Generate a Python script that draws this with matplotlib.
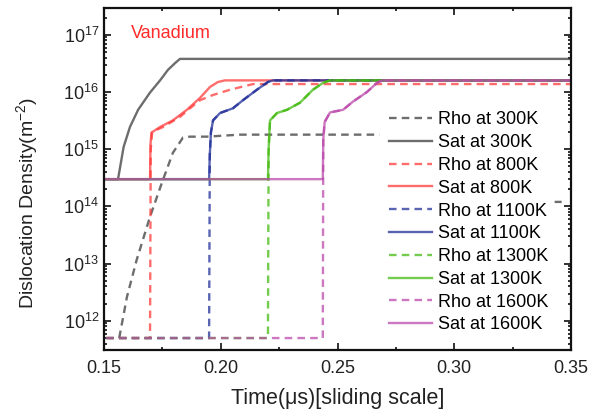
import matplotlib
matplotlib.use("Agg")
import matplotlib.pyplot as plt
import matplotlib.ticker as mticker
import numpy as np

plt.rcParams['font.family'] = ['Liberation Sans', 'DejaVu Sans']
plt.rcParams['mathtext.fontset'] = 'custom'
plt.rcParams['mathtext.rm'] = 'Liberation Sans'
plt.rcParams['mathtext.it'] = 'Liberation Sans:italic'

# Dados (tempo em us, densidade em m^-2)
t_rho_300 = [0.1565, 0.1598, 0.1640, 0.1697, 0.1748, 0.1795, 0.1812, 0.1838, 0.1868, 0.1940, 0.2082, 0.2680, 0.2680, 0.3430, 0.3460]
v_rho_300 = [5.0e11, 2.6e12, 1.17e13, 6.6e13, 2.6e14, 8.7e14, 1.1e15, 1.6e15, 1.66e15, 1.66e15, 1.8e15, 1.8e15, np.nan, 1.2e14, 1.2e14]
t_sat_300 = [0.150, 0.156, 0.1584, 0.1611, 0.1646, 0.1697, 0.1740, 0.1774, 0.1804, 0.1825, 0.350]
v_sat_300 = [3.0e14, 3.0e14, 1.1e15, 2.45e15, 4.9e15, 9.8e15, 1.6e16, 2.45e16, 3.2e16, 3.8e16, 3.8e16]

t_rho_800 = [0.140, 0.1697, 0.1700, 0.1706, 0.1727, 0.1753, 0.1826, 0.1868, 0.1911, 0.1967, 0.2040, 0.2138, 0.350]
v_rho_800 = [5.0e11, 5.0e11, 1.0e15, 1.95e15, 2.2e15, 2.45e15, 3.7e15, 5.2e15, 7.2e15, 8.9e15, 1.1e16, 1.38e16, 1.38e16]
t_sat_800 = [0.140, 0.1697, 0.1699, 0.1703, 0.1740, 0.1795, 0.1855, 0.1911, 0.1954, 0.1988, 0.2018, 0.350]
v_sat_800 = [3.0e14, 3.0e14, 1.2e15, 1.95e15, 2.45e15, 3.2e15, 4.9e15, 7.9e15, 1.23e16, 1.5e16, 1.6e16, 1.6e16]

t_rho_1100 = [0.140, 0.1950, 0.1953, 0.1958, 0.1967, 0.1997, 0.2052, 0.2095, 0.2155, 0.2202, 0.2224, 0.350]
v_rho_1100 = [5.0e11, 5.0e11, 7.9e14, 2.0e15, 3.2e15, 4.3e15, 5.2e15, 7.2e15, 1.1e16, 1.5e16, 1.6e16, 1.6e16]
t_sat_1100 = [0.140, 0.1950, 0.1953, 0.1958, 0.1967, 0.1997, 0.2052, 0.2095, 0.2155, 0.2202, 0.2224, 0.350]
v_sat_1100 = [3.0e14, 3.0e14, 7.9e14, 2.0e15, 3.2e15, 4.3e15, 5.2e15, 7.2e15, 1.1e16, 1.5e16, 1.6e16, 1.6e16]

t_rho_1300 = [0.140, 0.2202, 0.2205, 0.2211, 0.2241, 0.2284, 0.2339, 0.2395, 0.2438, 0.2468, 0.350]
v_rho_1300 = [5.0e11, 5.0e11, 1.0e15, 3.2e15, 4.3e15, 4.9e15, 6.5e15, 1.1e16, 1.45e16, 1.6e16, 1.6e16]
t_sat_1300 = [0.140, 0.2202, 0.2205, 0.2211, 0.2241, 0.2284, 0.2339, 0.2395, 0.2438, 0.2468, 0.350]
v_sat_1300 = [3.0e14, 3.0e14, 1.0e15, 3.2e15, 4.3e15, 4.9e15, 6.5e15, 1.1e16, 1.45e16, 1.6e16, 1.6e16]

t_rho_1600 = [0.140, 0.2437, 0.2439, 0.2445, 0.2468, 0.2524, 0.2566, 0.2626, 0.2669, 0.2691, 0.350]
v_rho_1600 = [5.0e11, 5.0e11, 1.5e15, 3.0e15, 4.4e15, 4.9e15, 6.8e15, 1.0e16, 1.45e16, 1.6e16, 1.6e16]
t_sat_1600 = [0.140, 0.2437, 0.2439, 0.2445, 0.2468, 0.2524, 0.2566, 0.2626, 0.2669, 0.2691, 0.350]
v_sat_1600 = [3.0e14, 3.0e14, 1.5e15, 3.0e15, 4.4e15, 4.9e15, 6.8e15, 1.0e16, 1.45e16, 1.6e16, 1.6e16]

temperaturas = ['300K', '800K', '1100K', '1300K', '1600K']
cores = ['#3c3c3c', '#ff3b3b', '#22309a', '#44bb11', '#bb4aab']
series = [
    (t_rho_300, v_rho_300, t_sat_300, v_sat_300),
    (t_rho_800, v_rho_800, t_sat_800, v_sat_800),
    (t_rho_1100, v_rho_1100, t_sat_1100, v_sat_1100),
    (t_rho_1300, v_rho_1300, t_sat_1300, v_sat_1300),
    (t_rho_1600, v_rho_1600, t_sat_1600, v_sat_1600),
]
y_ticks = [1e12, 1e13, 1e14, 1e15, 1e16, 1e17]

fig = plt.figure(figsize=(6.02, 4.18), dpi=100)
ax = fig.add_axes([0.1728, 0.1627, 0.7757, 0.8182])

for temp, cor, (tr, vr, ts, vs) in zip(temperaturas, cores, series):
    ax.plot(tr, vr, color=cor, lw=1.7, alpha=0.75, ls=(0, (3.2, 2.2)), label='Rho at ' + temp)
    ax.plot(ts, vs, color=cor, lw=1.7, alpha=0.75, ls='-', label='Sat at ' + temp)

ax.set_yscale('log')
ax.set_xlim(0.15, 0.35)
ax.set_ylim(10**11.49, 10**17.47)
ax.set_xticks([0.15, 0.20, 0.25, 0.30, 0.35])
ax.set_xticks([0.175, 0.225, 0.275, 0.325], minor=True)
ax.set_yticks(y_ticks)
ax.yaxis.set_minor_locator(mticker.LogLocator(base=10, subs=np.arange(2, 10), numticks=20))
ax.yaxis.set_minor_formatter(mticker.NullFormatter())

ax.tick_params(which='both', direction='in', top=True, right=True, labelsize=13, colors='#222222', width=1.3)
ax.tick_params(which='major', length=5)
ax.tick_params(which='minor', length=2.5)
ax.tick_params(axis='x', which='major', pad=7)
for s in ax.spines.values():
    s.set_linewidth(1.6)
    s.set_color('#111111')

ax.set_xlabel('Time(μs)[sliding scale]', fontsize=15.5, color='#222222', labelpad=8)
ax.set_ylabel(r'Dislocation Density(m$^{\mathregular{-2}}$)', fontsize=14, color='#222222')
ax.yaxis.set_label_coords(-0.138, 0.43)

ax.text(0.058, 0.925, 'Vanadium', transform=ax.transAxes, color='#ff2a2a', fontsize=13, ha='left', va='center')

leg = ax.legend(loc='upper left', bbox_to_anchor=(0.602, 0.708), fontsize=13, frameon=True,
                handlelength=2.4, handletextpad=0.3, labelspacing=0.32, borderpad=0.2, borderaxespad=0)
leg.get_frame().set_edgecolor('none')
leg.get_frame().set_facecolor('white')
leg.get_frame().set_alpha(1)

fig.savefig('out.png', dpi=100)
